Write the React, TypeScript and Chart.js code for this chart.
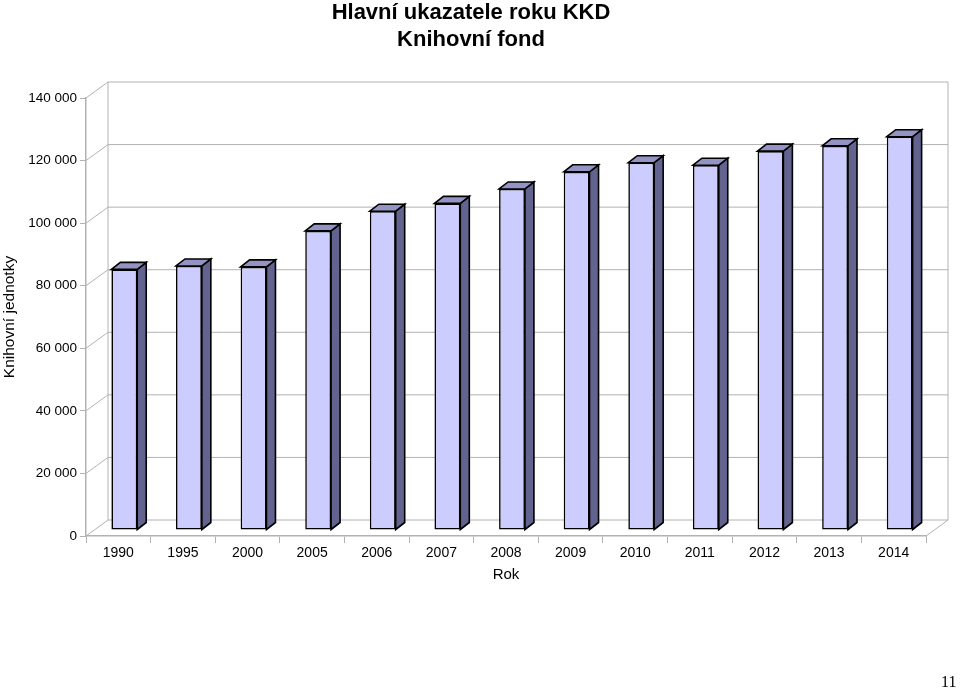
import React, { useEffect, useRef } from "react";
import { Chart, registerables } from "chart.js";

Chart.register(...registerables);

// ---- data ----
const years = ["1990", "1995", "2000", "2005", "2006", "2007", "2008", "2009", "2010", "2011", "2012", "2013", "2014"];
const fond = [83300, 84400, 84100, 95600, 101900, 104400, 109000, 114500, 117400, 116600, 121100, 122800, 125700];
const yMin = 0;
const yMax = 140000;
const yStep = 20000;
const titleLines = ["Hlavní ukazatele roku KKD", "Knihovní fond"];
const yTitle = "Knihovní jednotky";
const xTitle = "Rok";
const pageNumber = "11";

// ---- styles ----
const FONT = "'Liberation Sans', Arial, sans-serif";
const GRID = "#b2b2b2";
const FRONT = "#ccccff";
const TOP = "#9494c4";
const SIDE = "#636390";
const WALL_DX = 22;
const WALL_DY = -16;
const BAR_DX = 6;
const BAR_DY = -6;
const FACE_DX = 9;
const FACE_DY = -7;

const fmt = (v: number) => String(v).replace(/\B(?=(\d{3})+(?!\d))/g, " ");

const depthPlugin = {
  id: "depth3d",
  beforeDatasetsDraw(chart: any) {
    const { ctx, chartArea: a, scales } = chart;
    const ys = scales.y;
    ctx.save();
    ctx.strokeStyle = GRID;
    ctx.lineWidth = 1;
    ys.ticks.forEach((t: any) => {
      const py = ys.getPixelForValue(t.value);
      ctx.beginPath();
      ctx.moveTo(a.left, py);
      ctx.lineTo(a.left + WALL_DX, py + WALL_DY);
      ctx.lineTo(a.right + WALL_DX, py + WALL_DY);
      ctx.stroke();
    });
    ctx.beginPath();
    ctx.moveTo(a.left + WALL_DX, a.top + WALL_DY);
    ctx.lineTo(a.left + WALL_DX, a.bottom + WALL_DY);
    ctx.moveTo(a.right + WALL_DX, a.top + WALL_DY);
    ctx.lineTo(a.right + WALL_DX, a.bottom + WALL_DY);
    ctx.moveTo(a.right, a.bottom);
    ctx.lineTo(a.right + WALL_DX, a.bottom + WALL_DY);
    ctx.stroke();
    ctx.restore();
    ctx.save();
    ctx.translate(BAR_DX, BAR_DY);
  },
  afterDatasetsDraw(chart: any) {
    const ctx = chart.ctx;
    const meta = chart.getDatasetMeta(0);
    ctx.lineWidth = 1.6;
    ctx.strokeStyle = "#000";
    ctx.lineJoin = "miter";
    meta.data.forEach((el: any) => {
      const { x, y, base, width } = el.getProps(["x", "y", "base", "width"], true);
      const L = x - width / 2;
      const R = x + width / 2;
      ctx.beginPath();
      ctx.moveTo(R, y);
      ctx.lineTo(R + FACE_DX, y + FACE_DY);
      ctx.lineTo(R + FACE_DX, base + FACE_DY);
      ctx.lineTo(R, base);
      ctx.closePath();
      ctx.fillStyle = SIDE;
      ctx.fill();
      ctx.stroke();
      ctx.beginPath();
      ctx.moveTo(L, y);
      ctx.lineTo(L + FACE_DX, y + FACE_DY);
      ctx.lineTo(R + FACE_DX, y + FACE_DY);
      ctx.lineTo(R, y);
      ctx.closePath();
      ctx.fillStyle = TOP;
      ctx.fill();
      ctx.stroke();
    });
    ctx.restore();
  },
  afterDraw(chart: any) {
    const ctx = chart.ctx;
    ctx.save();
    ctx.fillStyle = "#000";
    ctx.font = `bold 22px ${FONT}`;
    ctx.textAlign = "center";
    ctx.textBaseline = "middle";
    ctx.fillText(titleLines[0], 471, 13);
    ctx.fillText(titleLines[1], 471, 40);
    ctx.restore();
  },
};

export default function App() {
  const ref = useRef<HTMLCanvasElement | null>(null);
  useEffect(() => {
    if (!ref.current) return;
    const chart = new Chart(ref.current, {
      type: "bar",
      data: {
        labels: years,
        datasets: [
          {
            data: fond,
            backgroundColor: FRONT,
            borderColor: "#000",
            borderWidth: 1.6,
            borderSkipped: false,
            categoryPercentage: 1,
            barPercentage: 0.4,
            clip: false as any,
          },
        ],
      },
      options: {
        animation: false,
        responsive: false,
        maintainAspectRatio: false,
        layout: { padding: { top: 98, right: 34, bottom: 100, left: 0 } },
        plugins: { legend: { display: false }, title: { display: false }, tooltip: { enabled: false } },
        scales: {
          x: {
            afterFit: (s: any) => {
              s.height = 54;
            },
            grid: { drawOnChartArea: false, drawTicks: true, tickLength: 7, color: GRID, offset: true },
            border: { display: true, color: GRID, width: 1.5 },
            ticks: { color: "#000", font: { family: FONT, size: 14 }, padding: 2, maxRotation: 0, autoSkip: false },
            title: { display: true, text: xTitle, color: "#000", font: { family: FONT, size: 15 }, padding: { top: 0, bottom: 6 } },
          },
          y: {
            min: yMin,
            max: yMax,
            afterFit: (s: any) => {
              s.width = 86;
            },
            grid: { drawOnChartArea: false, drawTicks: true, tickLength: 6, color: GRID },
            border: { display: true, color: GRID, width: 1.5 },
            ticks: { stepSize: yStep, color: "#000", font: { family: FONT, size: 13.5 }, padding: 3, callback: (v: any) => fmt(Number(v)) },
            title: { display: true, text: yTitle, color: "#000", font: { family: FONT, size: 15.5 }, padding: { top: 0, bottom: 0 } },
          },
        },
      },
      plugins: [depthPlugin],
    });
    return () => chart.destroy();
  }, []);
  return (
    <div style={{ position: "absolute", left: 0, top: 0, width: 960, height: 690, background: "#fff" }}>
      <canvas ref={ref} width={960} height={690} style={{ display: "block" }} />
      <div style={{ position: "absolute", left: 941, top: 673, fontFamily: "'Liberation Serif', serif", fontSize: 16, color: "#000" }}>
        {pageNumber}
      </div>
    </div>
  );
}
